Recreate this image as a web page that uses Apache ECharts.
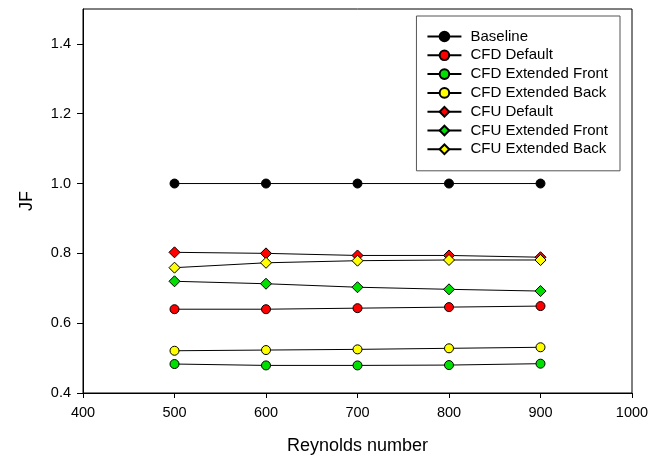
<!DOCTYPE html>
<html><head><meta charset="utf-8">
<script src="https://cdn.jsdelivr.net/npm/echarts@6/dist/echarts.min.js"></script>
<style>html,body{margin:0;padding:0;background:#fff}#c{width:663px;height:456px}</style>
</head><body><div id="c"></div>
<script>
const reynolds = [500, 600, 700, 800, 900];
const seriesNames = ['Baseline','CFD Default','CFD Extended Front','CFD Extended Back','CFU Default','CFU Extended Front','CFU Extended Back'];
const baseline = [1.0, 1.0, 1.0, 1.0, 1.0];
const cfdDefault = [0.640, 0.640, 0.643, 0.646, 0.649];
const cfdExtFront = [0.483, 0.479, 0.479, 0.480, 0.484];
const cfdExtBack = [0.521, 0.523, 0.525, 0.528, 0.531];
const cfuDefault = [0.803, 0.800, 0.794, 0.794, 0.789];
const cfuExtFront = [0.720, 0.713, 0.703, 0.697, 0.692];
const cfuExtBack = [0.759, 0.773, 0.779, 0.781, 0.781];
const allValues = [baseline, cfdDefault, cfdExtFront, cfdExtBack, cfuDefault, cfuExtFront, cfuExtBack];
const colors = ['#000000','#ff0000','#00e000','#ffff00','#ff0000','#00e000','#ffff00'];
const symbols = ['circle','circle','circle','circle','diamond','diamond','diamond'];

const chart = echarts.init(document.getElementById('c'), null, {renderer:'canvas'});
const font = 'Liberation Sans, Arial, sans-serif';
chart.setOption({
  animation: false,
  grid: {left: 83, right: 31, top: 9, bottom: 63, show: true, borderColor: '#000', borderWidth: 1,
         backgroundColor: 'transparent', containLabel: false, outerBoundsMode: 'none'},
  legend: {
    orient: 'vertical', right: 43, top: 16,
    padding: [13, 12, 14, 10],
    itemGap: 3.8, itemWidth: 34, itemHeight: 12,
    borderColor: '#555', borderWidth: 1,
    textStyle: {fontFamily: font, fontSize: 15, color: '#000', padding: [0, 0, 0, 4]},
    data: seriesNames
  },
  xAxis: {
    type: 'value', min: 400, max: 1000, interval: 100,
    name: 'Reynolds number', nameLocation: 'middle', nameGap: 44,
    nameTextStyle: {fontFamily: font, fontSize: 18, color: '#000'},
    axisLine: {lineStyle: {color: '#000'}},
    axisTick: {show: true, length: 5, lineStyle: {color: '#000'}},
    axisLabel: {fontFamily: font, fontSize: 14.5, color: '#000', margin: 12, formatter: v => String(v)},
    splitLine: {show: false}
  },
  yAxis: {
    type: 'value', min: 0.4, max: 1.5, interval: 0.2,
    name: 'JF', nameLocation: 'middle', nameGap: 47,
    nameTextStyle: {fontFamily: font, fontSize: 18, color: '#000'},
    axisLine: {show: true, lineStyle: {color: '#000'}},
    axisTick: {show: true, length: 6, lineStyle: {color: '#000'}},
    axisLabel: {fontFamily: font, fontSize: 14.5, color: '#000', margin: 12, showMaxLabel: false,
      formatter: v => (Math.abs(v - 1.5) < 1e-6 ? '' : v.toFixed(1))},
    splitLine: {show: false}
  },
  series: seriesNames.map((n, i) => ({
    name: n, type: 'line',
    data: reynolds.map((x, j) => [x, allValues[i][j]]),
    symbol: symbols[i], symbolSize: symbols[i] === 'circle' ? 9 : 11,
    showAllSymbol: true,
    lineStyle: {color: '#000', width: 1},
    itemStyle: {color: colors[i], borderColor: '#000', borderWidth: 1},
    z: 2 + i
  }))
});
</script></body></html>
